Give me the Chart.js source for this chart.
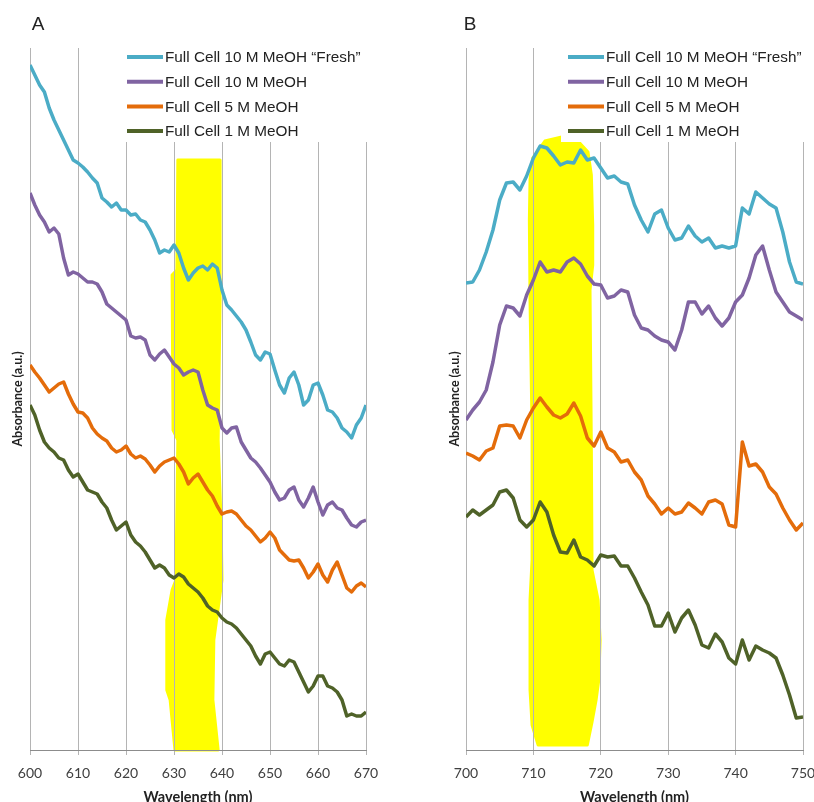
<!DOCTYPE html>
<html>
<head>
<meta charset="utf-8">
<script src="https://cdn.jsdelivr.net/npm/chart.js@4/dist/chart.umd.min.js"></script>
<style>
html, body { margin: 0; padding: 0; background: #fff; overflow: hidden; width: 814px; height: 802px; }
.panel { position: absolute; top: 0; height: 820px; }
#panelA { left: 0; width: 410px; }
#panelB { left: 410px; width: 420px; }
</style>
</head>
<body>
<div class="panel" id="panelA"><canvas id="chartA"></canvas></div>
<div class="panel" id="panelB"><canvas id="chartB"></canvas></div>
<script>
// --- DATA (absorbance in arbitrary units) ---
const seriesNames = ['Full Cell 10 M MeOH \u201cFresh\u201d', 'Full Cell 10 M MeOH', 'Full Cell 5 M MeOH', 'Full Cell 1 M MeOH'];
const seriesColors = ['#4bacc6', '#8064a2', '#e46c0a', '#4f6228'];

// panel A: 600 - 670 nm, 1 nm step
const wavelengthsA = Array.from({ length: 71 }, (_, i) => 600 + i);
const ticksA = [600, 610, 620, 630, 640, 650, 660, 670];
const freshA = [
  685, 675, 665, 658, 642, 630, 620, 610, 600, 590,
  587, 583, 578, 572, 567, 552, 548, 543, 547, 540,
  540, 535, 536, 530, 528, 520, 510, 497, 500, 498,
  505, 497, 482, 470, 477, 482, 484, 480, 486, 482,
  460, 445, 440, 434, 428, 420, 408, 395, 390, 398,
  396, 380, 365, 357, 372, 378, 365, 345, 350, 365,
  367, 355, 340, 338, 332, 322, 318, 312, 325, 332, 345
];
const m10A = [
  557, 545, 535, 528, 518, 522, 516, 492, 475, 478,
  476, 472, 468, 468, 466, 458, 446, 442, 438, 434,
  430, 414, 412, 413, 410, 395, 390, 396, 400, 393,
  386, 382, 375, 378, 380, 378, 360, 345, 342, 340,
  322, 317, 322, 323, 308, 300, 292, 288, 282, 275,
  268, 258, 250, 252, 260, 263, 250, 243, 252, 263,
  248, 235, 245, 248, 242, 240, 232, 225, 223, 228, 230
];
const m5A = [
  385, 378, 372, 365, 358, 362, 366, 368, 356, 346,
  338, 337, 332, 322, 316, 312, 309, 302, 298, 300,
  304, 296, 292, 294, 291, 285, 278, 284, 288, 290,
  292, 286, 278, 266, 272, 276, 268, 260, 254, 244,
  236, 238, 239, 236, 230, 224, 220, 214, 208, 212,
  218, 212, 200, 195, 190, 189, 190, 182, 172, 178,
  186, 175, 168, 180, 188, 175, 162, 158, 164, 167, 163
];
const m1A = [
  345, 335, 320, 308, 302, 298, 292, 290, 280, 273,
  276, 268, 260, 258, 256, 248, 242, 230, 220, 224,
  228, 215, 208, 204, 198, 190, 182, 185, 182, 175,
  172, 176, 173, 166, 162, 158, 152, 144, 140, 138,
  132, 128, 126, 122, 116, 110, 104, 94, 86, 96,
  98, 92, 86, 84, 90, 88, 78, 68, 58, 64,
  74, 74, 64, 62, 58, 50, 34, 36, 34, 34, 38
];
// highlighted band A, outline as [nm, absorbance]
const bandA = [
  [631.0, 590], [639.6, 590], [639.6, 450], [639.2, 310], [639.8, 230], [640.0, 170],
  [638.3, 110], [638.1, 50], [639.2, 0], [630.2, 0], [629.2, 50], [628.5, 60],
  [628.5, 130], [629.6, 160], [630.4, 170], [630.8, 310], [629.8, 320], [629.6, 475],
  [630.6, 480], [630.8, 590]
];

// panel B: 700 - 750 nm, 1 nm step
const wavelengthsB = Array.from({ length: 51 }, (_, i) => 700 + i);
const ticksB = [700, 710, 720, 730, 740, 750];
const freshB = [
  467, 468, 480, 498, 520, 550, 567, 568, 560, 574,
  592, 604, 602, 594, 585, 588, 587, 600, 590, 592,
  582, 572, 574, 568, 566, 545, 530, 518, 536, 540,
  522, 510, 512, 524, 514, 508, 512, 502, 504, 502,
  504, 542, 536, 558, 552, 546, 542, 518, 488, 468, 466
];
const m10B = [
  330, 340, 348, 360, 388, 425, 444, 442, 434, 455,
  470, 488, 478, 480, 478, 488, 492, 486, 474, 466,
  465, 452, 454, 460, 458, 435, 422, 420, 414, 410,
  408, 400, 420, 448, 448, 436, 444, 432, 424, 432,
  448, 455, 472, 495, 504, 480, 458, 448, 438, 434, 430
];
const m5B = [
  297, 294, 290, 299, 302, 324, 325, 324, 312, 330,
  342, 352, 343, 335, 332, 336, 347, 334, 312, 304,
  318, 302, 298, 288, 290, 278, 270, 254, 246, 236,
  242, 236, 238, 247, 242, 236, 248, 250, 246, 225,
  223, 308, 284, 286, 278, 263, 256, 242, 230, 220, 227
];
const m1B = [
  233, 240, 235, 240, 245, 258, 260, 252, 230, 223,
  230, 248, 238, 215, 198, 197, 210, 193, 190, 184,
  195, 193, 194, 184, 184, 172, 158, 145, 124, 124,
  137, 118, 132, 140, 125, 105, 102, 116, 108, 92,
  86, 110, 90, 104, 100, 97, 92, 75, 55, 32, 33
];
const bandB = [
  [709.5, 570], [709.9, 592], [711.7, 609], [714.2, 613], [716.6, 609], [718.1, 598],
  [718.6, 575], [718.8, 525], [718.8, 485], [718.4, 460], [718.6, 300], [718.7, 180],
  [719.6, 150], [719.9, 110], [719.7, 70], [719.3, 50], [718.7, 28], [718.0, 5],
  [710.7, 5], [709.8, 25], [709.5, 60], [709.5, 150], [709.8, 190], [709.8, 320],
  [709.5, 450], [709.4, 530]
];

// --- DECORATIONS: yellow band, legend box, panel letter, y title ---
const panelDecor = {
  id: 'panelDecor',
  beforeDraw(chart, args, opts) {
    const { ctx, scales: { x, y } } = chart;
    ctx.save();
    ctx.fillStyle = '#ffff00';
    ctx.strokeStyle = '#ffff00';
    ctx.lineWidth = 3;
    ctx.lineJoin = 'round';
    ctx.beginPath();
    opts.band.forEach(([nm, v], i) => {
      const px = x.getPixelForValue(nm), py = y.getPixelForValue(v);
      if (i) ctx.lineTo(px, py); else ctx.moveTo(px, py);
    });
    ctx.closePath();
    ctx.fill();
    ctx.stroke();
    ctx.restore();
  },
  beforeDatasetsDraw(chart, args, opts) {
    const { ctx, chartArea } = chart;
    const x0 = chartArea.left + opts.legendX;
    ctx.save();
    ctx.fillStyle = '#fff';
    ctx.fillRect(x0 - 7, chartArea.top - 2, chartArea.right - x0 + 12, 96);
    ctx.font = '15.3px "Liberation Sans", Arial, sans-serif';
    ctx.textBaseline = 'middle';
    chart.data.datasets.forEach((ds, i) => {
      const yy = chartArea.top + 9 + i * 24.7;
      ctx.strokeStyle = ds.borderColor;
      ctx.lineWidth = 4;
      ctx.beginPath();
      ctx.moveTo(x0, yy);
      ctx.lineTo(x0 + 36, yy);
      ctx.stroke();
      ctx.fillStyle = '#222';
      ctx.fillText(ds.label, x0 + 38, yy + 1);
    });
    ctx.restore();
  },
  afterDraw(chart, args, opts) {
    const { ctx, chartArea } = chart;
    ctx.save();
    ctx.fillStyle = '#222';
    ctx.font = '19px "Liberation Sans", Arial, sans-serif';
    ctx.textAlign = 'center';
    ctx.textBaseline = 'middle';
    ctx.fillText(opts.letter, chartArea.left + opts.letterDx, 25);
    ctx.translate(chartArea.left - opts.titleDx, (chartArea.top + chartArea.bottom) / 2);
    ctx.rotate(-Math.PI / 2);
    ctx.font = 'bold 12.5px Lato, sans-serif';
    ctx.fillStyle = '#222';
    ctx.fillText('Absorbance (a.u.)', 0, 0);
    ctx.restore();
  }
};

function makeChart(canvasId, wavelengths, series, ticks, band, pad, decor) {
  const datasets = series.map((vals, i) => ({
    label: seriesNames[i],
    data: wavelengths.map((w, k) => ({ x: w, y: vals[k] })),
    borderColor: seriesColors[i],
    borderWidth: 3.5,
    borderJoinStyle: 'round',
    pointRadius: 0,
    tension: 0
  }));
  return new Chart(document.getElementById(canvasId), {
    type: 'line',
    data: { datasets },
    options: {
      responsive: true,
      maintainAspectRatio: false,
      animation: false,
      layout: { padding: pad },
      scales: {
        x: {
          type: 'linear',
          min: ticks[0],
          max: ticks[ticks.length - 1],
          afterBuildTicks: s => { s.ticks = ticks.map(v => ({ value: v })); },
          afterFit: s => { s.height = 56; },
          grid: { color: '#b4b4b4', lineWidth: 1, tickLength: 5 },
          border: { color: '#8c8c8c', width: 1 },
          ticks: { color: '#404040', padding: 10, font: { family: 'Lato', size: 14 } },
          title: {
            display: true,
            text: 'Wavelength (nm)',
            color: '#222',
            padding: { top: 0, bottom: 0 },
            font: { family: 'Lato', size: 14.5, weight: 'bold' }
          }
        },
        y: { display: false, min: 0, max: 702 }
      },
      plugins: {
        legend: { display: false },
        tooltip: { enabled: false },
        panelDecor: Object.assign({ band }, decor)
      }
    },
    plugins: [panelDecor]
  });
}

makeChart('chartA', wavelengthsA, [freshA, m10A, m5A, m1A], ticksA, bandA,
  { left: 30, right: 44, top: 48, bottom: 14 },
  { letter: 'A', letterDx: 8, titleDx: 12, legendX: 97 });
makeChart('chartB', wavelengthsB, [freshB, m10B, m5B, m1B], ticksB, bandB,
  { left: 56, right: 27, top: 48, bottom: 14 },
  { letter: 'B', letterDx: 4, titleDx: 11, legendX: 102 });
</script>
</body>
</html>
